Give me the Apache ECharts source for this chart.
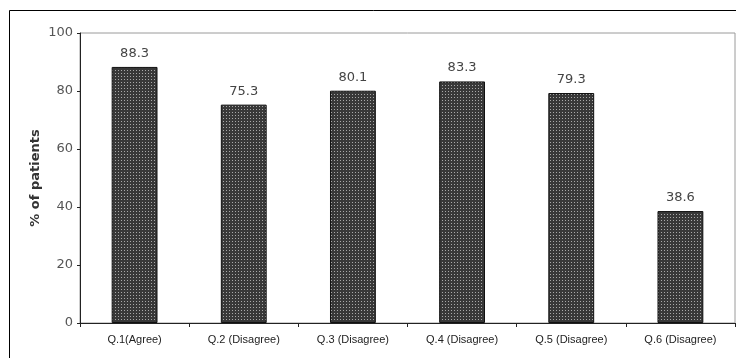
<!DOCTYPE html>
<html>
<head>
<meta charset="utf-8">
<script src="https://cdn.jsdelivr.net/npm/echarts@6/dist/echarts.min.js"></script>
<style>
  html, body { margin: 0; padding: 0; background: #fff; }
  #chart { width: 736px; height: 358px; }
</style>
</head>
<body>
<div id="chart"></div>
<script>
// Survey responses: share of patients giving the listed answer
const categories = ['Q.1(Agree)', 'Q.2 (Disagree)', 'Q.3 (Disagree)', 'Q.4 (Disagree)', 'Q.5 (Disagree)', 'Q.6 (Disagree)'];
const percentages = [88.3, 75.3, 80.1, 83.3, 79.3, 38.6];
const yTicks = [0, 20, 40, 60, 80, 100];

// Dotted fill for the bars: dark ground with a fine grid of light dots
function dotPattern() {
  const c = document.createElement('canvas');
  c.width = 3; c.height = 3;
  const g = c.getContext('2d');
  g.fillStyle = '#383838';
  g.fillRect(0, 0, 3, 3);
  g.fillStyle = '#a8a8a8';
  g.fillRect(1, 1, 1, 1);
  return c;
}

const chart = echarts.init(document.getElementById('chart'), null, { renderer: 'canvas' });
chart.setOption({
  animation: false,
  graphic: [{
    type: 'rect',
    shape: { x: 9.5, y: 10.5, width: 740, height: 360 },
    style: { fill: 'none', stroke: '#000', lineWidth: 1 },
    silent: true,
    z: -1
  }],
  grid: {
    left: 80, top: 33, right: 1, bottom: 35,
    show: true, borderColor: '#9a9a9a', borderWidth: 1, backgroundColor: 'transparent'
  },
  xAxis: {
    type: 'category',
    data: categories,
    axisLine: { lineStyle: { color: '#222', width: 1 } },
    axisTick: { show: true, length: 4, lineStyle: { color: '#222' } },
    axisLabel: { fontFamily: 'Liberation Sans', fontSize: 11, color: '#222', margin: 11, interval: 0 }
  },
  yAxis: {
    type: 'value',
    min: yTicks[0], max: yTicks[yTicks.length - 1], interval: 20,
    name: '% of patients',
    nameLocation: 'middle',
    nameGap: 38,
    nameMoveOverlap: false,
    nameTextStyle: { fontFamily: 'DejaVu Sans', fontSize: 13, fontWeight: 'bold', color: '#333' },
    axisLine: { show: true, lineStyle: { color: '#222', width: 1 } },
    axisTick: { show: true, length: 3, lineStyle: { color: '#222' } },
    splitLine: { show: false },
    axisLabel: { fontFamily: 'DejaVu Sans', fontSize: 13, color: '#555', margin: 7 }
  },
  series: [{
    type: 'bar',
    data: percentages,
    barWidth: '42%',
    itemStyle: {
      color: { image: dotPattern(), repeat: 'repeat' },
      borderColor: '#111',
      borderWidth: 1
    },
    label: {
      show: true,
      position: 'top',
      distance: 7,
      fontFamily: 'DejaVu Sans',
      fontSize: 13,
      color: '#444',
      formatter: p => p.value.toFixed(1)
    }
  }]
});
</script>
</body>
</html>
